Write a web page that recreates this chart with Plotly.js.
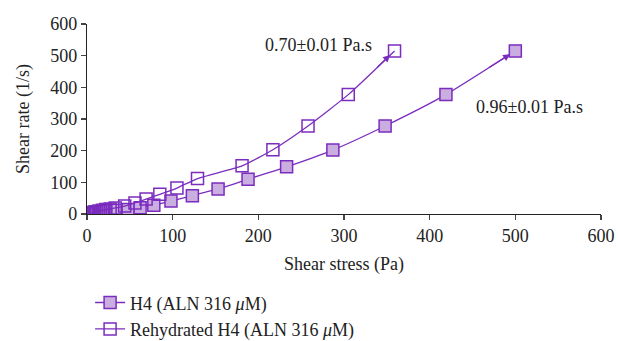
<!DOCTYPE html>
<html>
<head>
<meta charset="utf-8">
<script src="https://cdn.plot.ly/plotly-3.0.1.min.js"></script>
<style>html,body{margin:0;padding:0;background:#fff;}#chart{width:618px;height:341px;}</style>
</head>
<body>
<div id="chart"></div>
<script>
// H4 (ALN 316 µM)
const h4Stress = [0.5, 1, 2, 3, 4, 6, 8, 10, 13, 16, 20, 25, 30, 35, 48, 62, 78, 98, 123, 153, 188, 233, 287, 348, 419, 500];
const h4Rate   = [0.2, 0.4, 0.7, 1, 1.4, 2, 2.8, 3.5, 4.5, 5.6, 7, 8.5, 10, 12, 14, 20, 28, 41, 58, 79, 110, 149, 202, 278, 377, 515];
// Rehydrated H4 (ALN 316 µM)
const rhStress = [0.5, 1, 2, 3, 4, 5, 7, 9, 11, 14, 18, 22, 27, 33, 44, 56, 69, 85, 105, 129, 181, 217, 258, 305, 359];
const rhRate   = [0.3, 0.6, 1.2, 1.8, 2.5, 3.2, 4.5, 6, 7.5, 9.5, 12, 14, 16, 19, 25, 35, 47, 62, 82, 112, 152, 203, 278, 377, 515];
const seriesNames = ["H4 (ALN 316 <i>μ</i>M)", "Rehydrated H4 (ALN 316 <i>μ</i>M)"];
const viscLabels = ["0.70±0.01 Pa.s", "0.96±0.01 Pa.s"];
const labelPos = [[270, 534], [516, 338]];

const purple = "#7B2CBF";
const lightFill = "#C9AEDF";
const font = "Liberation Serif, Times New Roman, serif";
const fs = 18;

const traces = [
  {
    x: h4Stress, y: h4Rate, name: seriesNames[0], type: "scatter", mode: "lines+markers",
    line: {color: purple, width: 1.3, shape: "spline", smoothing: 0.5},
    marker: {symbol: "square", size: 12, color: lightFill, line: {color: purple, width: 1.5}}
  },
  {
    x: rhStress, y: rhRate, name: seriesNames[1], type: "scatter", mode: "lines+markers",
    line: {color: purple, width: 1.3, shape: "spline", smoothing: 0.5},
    marker: {symbol: "square-open", size: 12, color: purple, line: {color: purple, width: 1.5}}
  }
];

function arrowAnn(xs, ys) {
  const n = xs.length;
  return {
    x: xs[n-1], y: ys[n-1], ax: xs[n-2] + (xs[n-1]-xs[n-2])*0.6, ay: ys[n-2] + (ys[n-1]-ys[n-2])*0.6,
    xref: "x", yref: "y", axref: "x", ayref: "y",
    showarrow: true, arrowhead: 2, arrowsize: 1.1, arrowwidth: 1.3, arrowcolor: purple,
    standoff: 6, text: ""
  };
}

const layout = {
  width: 618, height: 341,
  margin: {l: 87, r: 17, t: 24, b: 127, autoexpand: false},
  paper_bgcolor: "#fff", plot_bgcolor: "#fff",
  font: {family: font, size: fs, color: "#222"},
  showlegend: true,
  legend: {x: 0.006, y: -0.37, xanchor: "left", yanchor: "top",
           font: {family: font, size: fs, color: "#222"},
           tracegroupgap: 0, itemwidth: 30, bgcolor: "rgba(0,0,0,0)"},
  xaxis: {
    range: [0, 600], tickvals: [0, 100, 200, 300, 400, 500, 600], ticks: "outside", ticklen: 5, tickwidth: 1.2,
    showline: true, linecolor: "#222", linewidth: 1.2, showgrid: false, zeroline: false, automargin: false,
    tickfont: {family: font, size: fs, color: "#222"},
    title: {text: "Shear stress (Pa)", font: {family: font, size: fs, color: "#222"}, standoff: 12}
  },
  yaxis: {
    range: [0, 600], tickvals: [0, 100, 200, 300, 400, 500, 600], ticks: "outside", ticklen: 5, tickwidth: 1.2,
    showline: true, linecolor: "#222", linewidth: 1.2, showgrid: false, zeroline: false, automargin: false,
    tickfont: {family: font, size: fs, color: "#222"},
    title: {text: "Shear rate (1/s)", font: {family: font, size: fs, color: "#222"}, standoff: 16}
  },
  annotations: [
    arrowAnn(h4Stress, h4Rate),
    arrowAnn(rhStress, rhRate),
    {x: labelPos[0][0], y: labelPos[0][1], xref: "x", yref: "y", text: viscLabels[0], showarrow: false,
     font: {family: font, size: fs, color: "#222"}},
    {x: labelPos[1][0], y: labelPos[1][1], xref: "x", yref: "y", text: viscLabels[1], showarrow: false,
     font: {family: font, size: fs, color: "#222"}}
  ]
};

Plotly.newPlot("chart", traces, layout, {displayModeBar: false, staticPlot: true});
</script>
</body>
</html>
